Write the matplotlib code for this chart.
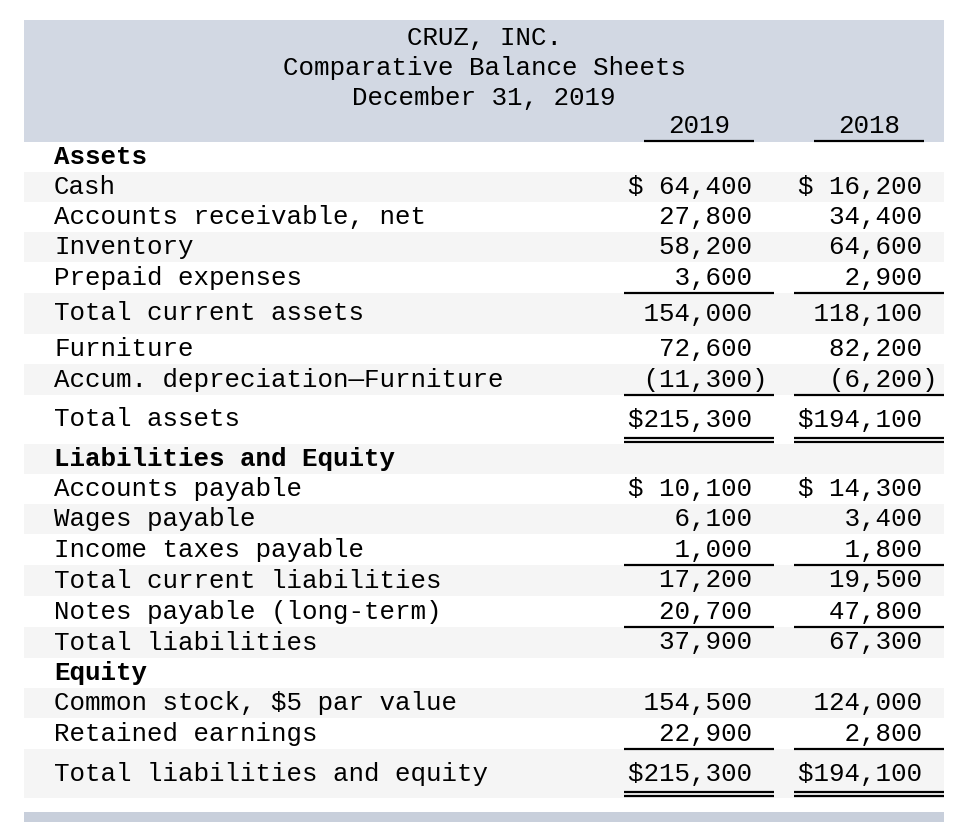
import matplotlib
matplotlib.use("Agg")
import matplotlib.pyplot as plt
from matplotlib.patches import Rectangle

# === Data ===
title_lines = ["CRUZ, INC.", "Comparative Balance Sheets", "December 31, 2019"]
years = ["2019", "2018"]

labels = [
    "Assets", "Cash", "Accounts receivable, net", "Inventory", "Prepaid expenses",
    "Total current assets", "Furniture", "Accum. depreciation\u2014Furniture", "Total assets",
    "Liabilities and Equity", "Accounts payable", "Wages payable", "Income taxes payable",
    "Total current liabilities", "Notes payable (long-term)", "Total liabilities",
    "Equity", "Common stock, $5 par value", "Retained earnings", "Total liabilities and equity",
]
values_2019 = [None, 64400, 27800, 58200, 3600, 154000, 72600, -11300, 215300,
               None, 10100, 6100, 1000, 17200, 20700, 37900, None, 154500, 22900, 215300]
values_2018 = [None, 16200, 34400, 64600, 2900, 118100, 82200, -6200, 194100,
               None, 14300, 3400, 1800, 19500, 47800, 67300, None, 124000, 2800, 194100]

bold_rows = {"Assets", "Liabilities and Equity", "Equity"}
dollar_rows = {"Cash", "Total assets", "Accounts payable", "Total liabilities and equity"}
single_rule = {"Prepaid expenses", "Accum. depreciation\u2014Furniture", "Income taxes payable",
               "Notes payable (long-term)", "Retained earnings"}
double_rule = {"Total assets", "Total liabilities and equity"}
shaded_rows = {"Cash", "Inventory", "Total current assets", "Accum. depreciation\u2014Furniture",
               "Liabilities and Equity", "Wages payable", "Total current liabilities",
               "Total liabilities", "Common stock, $5 par value", "Total liabilities and equity"}

# === Layout (pixels) ===
row_heights = [30, 30, 30, 30, 31, 41, 30, 31, 49, 30, 30, 30, 31, 31, 31, 31, 30, 30, 31, 49]
table_top = 142
x_left, x_right = 24, 944
col_text_x = [628, 798]
col_rule = [(624, 774), (794, 944)]
head_rule = [(644, 754), (814, 924)]
FONT = "Liberation Mono"
FS = 18.6
header_color = "#D2D8E3"
shade_color = "#F5F5F5"
band_color = "#C8CFDB"


def fmt(v, label):
    if v is None:
        return ""
    if v < 0:
        return " " + f"({abs(v):,})".rjust(8)
    prefix = "$" if label in dollar_rows else " "
    return prefix + f"{v:,}".rjust(7) + " "


fig = plt.figure(figsize=(9.72, 8.36), dpi=100)
ax = fig.add_axes([0, 0, 1, 1])
ax.set_xlim(0, 972)
ax.set_ylim(836, 0)
ax.axis("off")

# header band
ax.add_patch(Rectangle((x_left, 20), x_right - x_left, table_top - 20, color=header_color, lw=0))
for i, line in enumerate(title_lines):
    ax.text(484, 38 + 30 * i, line, family=FONT, fontsize=FS, ha="center", va="center")
for yr, (a, b) in zip(years, head_rule):
    ax.text((a + b) / 2, 126, yr, family=FONT, fontsize=FS, ha="center", va="center")
    ax.plot([a, b], [141, 141], color="black", lw=1.6, solid_capstyle="butt")

y = table_top
for label, h, v19, v18 in zip(labels, row_heights, values_2019, values_2018):
    if label in shaded_rows:
        ax.add_patch(Rectangle((x_left, y), x_right - x_left, h, color=shade_color, lw=0, zorder=0))
    yc = y + h / 2
    ax.text(54, yc, label, family=FONT, fontsize=FS, ha="left", va="center",
            fontweight="bold" if label in bold_rows else "normal")
    for x, v in zip(col_text_x, [v19, v18]):
        ax.text(x, yc, fmt(v, label), family=FONT, fontsize=FS, ha="left", va="center")
    y += h
    for (a, b) in col_rule:
        if label in single_rule:
            ax.plot([a, b], [y, y], color="black", lw=1.6, solid_capstyle="butt")
        if label in double_rule:
            ax.plot([a, b], [y - 6, y - 6], color="black", lw=1.6, solid_capstyle="butt")
            ax.plot([a, b], [y - 2, y - 2], color="black", lw=1.6, solid_capstyle="butt")

# bottom band
ax.add_patch(Rectangle((x_left, 812), x_right - x_left, 10, color=band_color, lw=0))

fig.savefig("out.png", dpi=100)
